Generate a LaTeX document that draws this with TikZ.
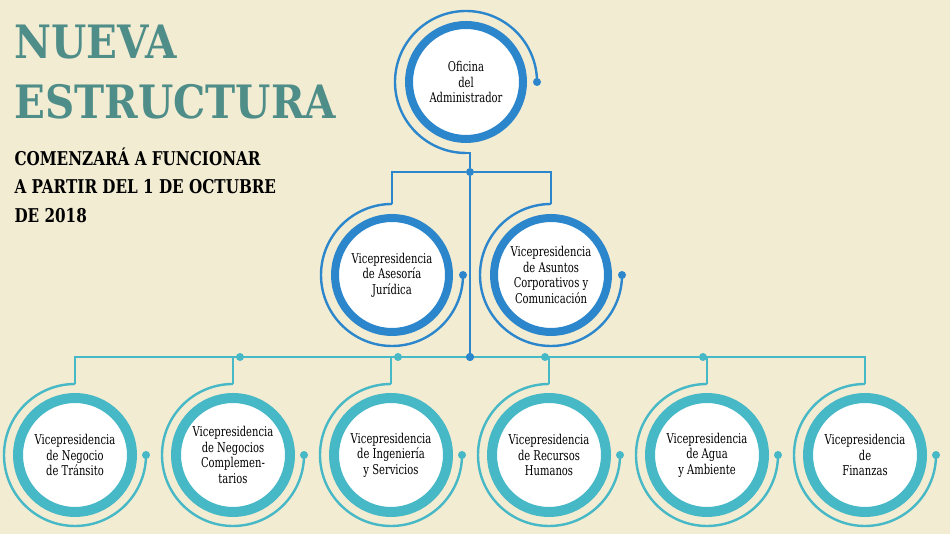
\documentclass[tikz,border=0pt]{standalone}
\usepackage{fontspec}
\setmainfont{DejaVu Serif}
\usetikzlibrary{positioning}
\definecolor{fondo}{HTML}{F2ECD3}
\definecolor{azul}{HTML}{2C86CC}
\definecolor{turquesa}{HTML}{46B8C6}
\definecolor{titulo}{HTML}{4E8D88}
\tikzset{
  unidad/.style={draw=#1, circle, fill=white, line width=8pt, minimum size=114pt, inner sep=0pt,
    align=center, font=\fontsize{13.5}{15.5}\selectfont\addfontfeatures{FakeStretch=0.74}},
  aro/.style={draw=#1, line width=2.4pt},
  punto/.style={circle, fill=#1, inner sep=0pt, minimum size=8pt},
}
\begin{document}
\begin{tikzpicture}[x=1pt, y=1pt]
    % Background
    \fill[fondo] (0,0) rectangle (950,534);

    % Title
    \node[anchor=north west, text=titulo, font=\fontsize{46}{46}\selectfont\bfseries\addfontfeatures{FakeStretch=0.88}] (tit1) at (11,513) {NUEVA};
    \node[anchor=north west, text=titulo, font=\fontsize{46}{46}\selectfont\bfseries\addfontfeatures{FakeStretch=0.88}] (tit2) at (11,453) {ESTRUCTURA};
    \node[anchor=north west, align=left, font=\fontsize{19}{28.5}\selectfont\bfseries\addfontfeatures{FakeStretch=0.8}] (sub) at (11,390)
        {COMENZARÁ A FUNCIONAR\\A PARTIR DEL 1 DE OCTUBRE\\DE 2018};

    % Top level
    \node[unidad=azul] (admin) at (466,452) {Oficina\\del\\Administrador};
    \coordinate (admin-bottom) at (466,381);
    \draw[aro=azul] (admin-bottom) arc[start angle=270, end angle=0, radius=71] node[punto=azul] (admin-dot) {};

    % Junctions
    \node[punto=azul] (j1) at (470,362) {};
    \node[punto=azul] (j2) at (470,177) {};
    \draw[aro=azul] (admin-bottom) -| (j1);
    \draw[aro=azul] (j1) -- (j2);

    % Second level
    \node[unidad=azul] (juridica) at (392,259) {Vicepresidencia\\de Asesoría\\Jurídica};
    \node[unidad=azul] (asuntos) at (551,259) {Vicepresidencia\\de Asuntos\\Corporativos y\\Comunicación};
    \foreach \n in {juridica,asuntos} {
        \coordinate (\n-top) at ([yshift=71pt]\n.center);
        \draw[aro=azul] (\n-top) arc[start angle=90, end angle=360, radius=71] node[punto=azul] {};
        \draw[aro=azul] (j1) -| (\n-top);
    }

    % Third level
    \foreach \n/\x/\txt in {transito/75/{Vicepresidencia\\de Negocio\\de Tránsito},
                            complementarios/233/{Vicepresidencia\\de Negocios\\Complemen-\\tarios},
                            ingenieria/391/{Vicepresidencia\\de Ingeniería\\y Servicios},
                            recursos/549/{Vicepresidencia\\de Recursos\\Humanos},
                            agua/707/{Vicepresidencia\\de Agua\\y Ambiente},
                            finanzas/865/{Vicepresidencia\\de\\Finanzas}} {
        \node[unidad=turquesa, line width=10pt] (\n) at (\x,79) {\txt};
        \coordinate (\n-top) at ([yshift=71pt]\n.center);
        \draw[aro=turquesa] (\n-top) arc[start angle=90, end angle=360, radius=71] node[punto=turquesa] {};
    }
    \node[punto=turquesa] (b2) at (240,177) {};
    \node[punto=turquesa] (b3) at (398,177) {};
    \node[punto=turquesa] (b4) at (545,177) {};
    \node[punto=turquesa] (b5) at (703,177) {};
    \draw[aro=turquesa] (transito-top) |- (j2) -| (finanzas-top);
    \draw[aro=turquesa] (b2) -| (complementarios-top);
    \draw[aro=turquesa] (b3) -| (ingenieria-top);
    \draw[aro=turquesa] (b4) -| (recursos-top);
    \draw[aro=turquesa] (b5) -| (agua-top);
    \node[punto=azul] at (j2) {};
\end{tikzpicture}
\end{document}
